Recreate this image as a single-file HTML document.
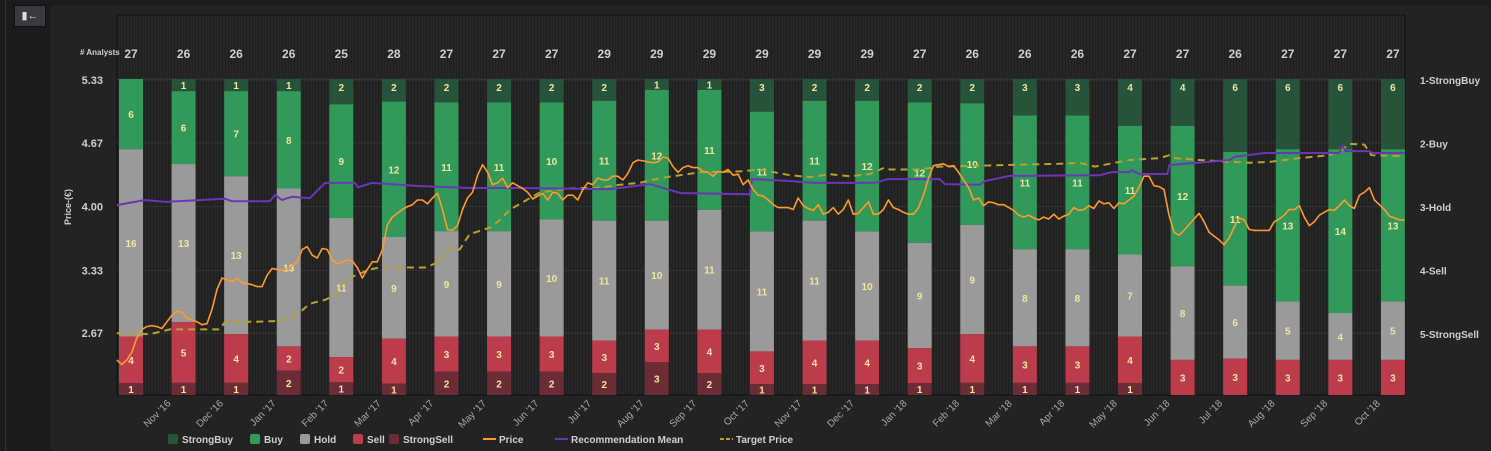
<!DOCTYPE html>
<html><head><meta charset="utf-8">
<style>
html,body{margin:0;padding:0;background:#1b1b1c;width:1491px;height:451px;overflow:hidden;font-family:"Liberation Sans",sans-serif;}
#panel{position:absolute;left:50px;top:5px;width:1441px;height:446px;background:#232323;border-radius:4px;}
#btn{position:absolute;left:14px;top:5px;width:30px;height:20px;background:#3a3a3c;border:1px solid #111;color:#ddd;font-size:11px;line-height:20px;text-align:center;}
#sideline{position:absolute;left:5px;top:0;width:1px;height:451px;background:#333;}
svg{position:absolute;left:0;top:0;}
</style></head><body>
<div id="sideline"></div>
<div id="panel"></div>
<div id="btn">▮←</div>
<svg id="chart" width="1491" height="451">
<defs>
<pattern id="stripes" width="3" height="10" patternUnits="userSpaceOnUse">
<rect width="3" height="10" fill="#262626"/><rect width="1" height="10" fill="#1f1f1f"/>
</pattern>
</defs>
</svg>
<script>
const months=["Nov '16","Dec '16","Jan '17","Feb '17","Mar '17","Apr '17","May '17","Jun '17","Jul '17","Aug '17","Sep '17","Oct '17","Nov '17","Dec '17","Jan '18","Feb '18","Mar '18","Apr '18","May '18","Jun '18","Jul '18","Aug '18","Sep '18","Oct '18"];
const strongBuy=[0,1,1,1,2,2,2,2,2,2,1,1,3,2,2,2,2,3,3,4,4,6,6,6,6];
const buy=[6,6,7,8,9,12,11,11,10,11,12,11,11,11,12,12,10,11,11,11,12,11,13,14,13];
const hold=[16,13,13,13,11,9,9,9,10,11,10,11,11,11,10,9,9,8,8,7,8,6,5,4,5];
const sell=[4,5,4,2,2,4,3,3,3,3,3,4,3,4,4,3,4,3,3,4,3,3,3,3,3];
const strongSell=[1,1,1,2,1,1,2,2,2,2,3,2,1,1,1,1,1,1,1,1,0,0,0,0,0];
const leftTicks=[2.67,3.33,4.00,4.67,5.33];
const rightTicks=["1-StrongBuy","2-Buy","3-Hold","4-Sell","5-StrongSell"];
const priceStartT=-0.27, priceEndT=24.22;
const price=[2.39,2.34,2.39,2.47,2.62,2.71,2.74,2.75,2.74,2.72,2.79,2.86,2.90,2.89,2.83,2.81,2.79,2.76,2.77,2.92,3.13,3.25,3.23,3.21,3.25,3.20,3.19,3.18,3.16,3.16,3.28,3.35,3.34,3.33,3.34,3.38,3.42,3.55,3.58,3.49,3.46,3.56,3.55,3.44,3.40,3.42,3.44,3.43,3.36,3.25,3.34,3.42,3.42,3.55,3.81,3.89,3.93,3.97,4.00,4.02,4.07,4.07,4.03,4.09,4.14,3.97,3.76,3.75,3.80,3.97,4.09,4.15,4.33,4.44,4.36,4.23,4.25,4.30,4.20,4.25,4.22,4.19,4.15,4.08,4.11,4.14,4.07,4.15,4.14,4.07,4.12,4.12,4.07,4.18,4.25,4.23,4.30,4.28,4.28,4.32,4.32,4.28,4.35,4.46,4.49,4.48,4.47,4.46,4.47,4.52,4.51,4.42,4.36,4.41,4.43,4.41,4.41,4.37,4.36,4.32,4.37,4.36,4.39,4.33,4.34,4.23,4.28,4.18,4.12,4.11,4.07,4.02,3.99,3.99,3.99,3.97,4.09,4.01,3.98,3.96,4.02,3.92,3.94,3.99,3.92,3.97,4.07,3.92,3.93,3.99,4.05,3.92,3.92,3.97,4.07,3.99,3.97,3.94,3.92,3.92,3.99,4.12,4.30,4.43,4.44,4.45,4.42,4.43,4.36,4.28,4.20,4.07,4.09,4.01,4.05,4.04,4.02,4.02,3.99,3.96,3.91,3.89,3.91,3.88,3.86,3.89,3.87,3.92,3.87,3.90,3.92,3.99,3.96,3.97,4.01,3.98,4.06,4.03,4.04,3.98,4.04,4.03,4.07,4.11,4.20,4.32,4.32,4.22,4.21,4.18,3.91,3.73,3.70,3.75,3.81,3.87,3.93,3.84,3.73,3.69,3.65,3.60,3.67,3.78,3.88,3.86,3.76,3.75,3.75,3.75,3.75,3.84,3.87,3.91,3.97,3.97,4.01,3.89,3.80,3.84,3.91,3.94,3.97,3.96,4.01,4.07,4.01,3.98,4.12,4.15,4.20,4.07,4.02,3.97,3.90,3.88,3.86,3.86];
const recT=[-0.27,0.27,0.65,1.79,1.92,2.64,2.74,2.87,3.06,3.40,3.69,4.26,4.32,4.58,5.46,6.44,7.40,9.11,9.87,10.44,11.77,11.81,12.53,13.00,14.14,14.39,15.38,15.48,16.14,16.24,16.71,18.42,18.65,18.99,19.03,19.18,19.71,19.75,20.89,20.99,21.56,22.98,23.04,23.10,23.56,23.61,24.22];
const recV=[2.97,2.89,2.92,2.87,2.91,2.91,2.81,2.89,2.84,2.86,2.62,2.62,2.69,2.62,2.67,2.70,2.70,2.72,2.64,2.78,2.80,2.56,2.59,2.62,2.62,2.56,2.56,2.64,2.65,2.59,2.51,2.50,2.45,2.45,2.42,2.48,2.48,2.34,2.26,2.21,2.15,2.15,2.04,2.12,2.12,2.15,2.15];
const tgtT=[-0.27,0.36,0.74,1.69,1.79,2.36,2.83,3.02,3.21,3.40,3.69,3.88,4.07,4.54,4.73,5.59,5.87,5.97,6.25,6.44,6.83,7.02,7.21,7.59,7.78,8.35,8.92,9.30,9.68,10.06,10.44,10.82,11.58,11.96,12.53,12.91,13.29,13.67,14.05,14.33,14.43,15.00,15.38,16.14,16.90,17.66,18.04,18.33,18.61,18.99,19.56,19.75,19.85,20.32,21.27,21.65,22.22,22.79,23.04,23.17,23.46,23.59,24.22];
const tgtV=[2.67,2.66,2.71,2.71,2.79,2.79,2.80,2.83,2.89,2.98,3.02,3.07,3.23,3.34,3.36,3.36,3.42,3.55,3.55,3.71,3.78,3.86,3.97,4.09,4.15,4.19,4.20,4.23,4.25,4.30,4.33,4.36,4.37,4.39,4.33,4.31,4.34,4.32,4.34,4.41,4.39,4.39,4.42,4.43,4.44,4.45,4.46,4.42,4.45,4.49,4.51,4.54,4.51,4.49,4.46,4.47,4.51,4.54,4.60,4.66,4.65,4.54,4.53];

const NS="http://www.w3.org/2000/svg";
const svg=document.getElementById('chart');
const PL=117,PR=1405,PT=15,PB=395,BT=79;
function xT(t){return 131+t*52.58;}
function yP(p){return 80+(5.33-p)*95.2;}
function yR(r){return 80+(r-1)*63.5;}
function mk(tag,a,parent){const e=document.createElementNS(NS,tag);for(const k in a)e.setAttribute(k,a[k]);(parent||svg).appendChild(e);return e;}

const bg=mk('rect',{x:PL,y:PT,width:PR-PL,height:PB-PT,fill:'url(#stripes)',stroke:'#111','stroke-width':1});


mk('line',{x1:PL,x2:PR,y1:BT,y2:BT,stroke:'#333','stroke-width':1});
leftTicks.forEach((v,i)=>{
  const y=yP(v);
  const g=mk('line',{x1:PL,x2:PR,y1:y,y2:y,stroke:'#333','stroke-width':1});
  
  
  const t=mk('text',{x:103,y:y+4,'text-anchor':'end',fill:'#cfcfcf','font-size':11,'font-weight':'bold'});
  t.textContent=v.toFixed(2);
  
  
});
rightTicks.forEach((s,i)=>{
  const t=mk('text',{x:1420,y:yR(i+1)+4,fill:'#cfcfcf','font-size':10,'font-weight':'bold'});
  t.textContent=s;
  
  
});
const yt=mk('text',{x:0,y:0,transform:'translate(71,207) rotate(-90)','text-anchor':'middle',fill:'#cfcfcf','font-size':9,'font-weight':'bold'});
yt.textContent='Price-(€)';


const na=mk('text',{x:80,y:55,fill:'#cfcfcf','font-size':8,'font-weight':'bold'});
na.textContent='# Analysts';



const cols=['#27533a','#31995a','#9a9a9a','#bd3c4c','#6b2c35'];
const series=[strongBuy,buy,hold,sell,strongSell];
const segNames=['strongbuy','buy','hold','sell','strongsell'];
for(let i=0;i<strongBuy.length;i++){
  const total=series.reduce((s,a)=>s+a[i],0);
  const cx=xT(i);
  const h=(PB-BT)/total;
  let y=BT;
  const cnt=mk('text',{x:cx,y:58,'text-anchor':'middle',fill:'#cfcfcf','font-size':12,'font-weight':'bold'});
  cnt.textContent=total;
  
  
  series.forEach((arr,k)=>{
    const v=arr[i]; if(!v) return;
    const r=mk('rect',{x:cx-12,y:y,width:24,height:v*h,fill:cols[k]});
    
    
    const t=mk('text',{x:cx,y:(v*h<16? y+v*h/2+4 : (k===0? y+12 : y+v*h/2+4)),'text-anchor':'middle',fill:'#efe6a2','font-size':10,'font-weight':'bold'});
    t.textContent=v;
    
    
    y+=v*h;
  });
}
months.forEach((m,i)=>{
  const x=xT(i+0.5);
  const t=mk('text',{x:0,y:0,transform:`translate(${x+14},${404}) rotate(-45)`,'text-anchor':'end',fill:'#a8a8a8','font-size':10});
  t.textContent=m;
  
  
});
let d=tgtT.map((t,i)=>(i?'L':'M')+xT(t).toFixed(1)+','+yP(tgtV[i]).toFixed(1)).join('');
const tp=mk('path',{d:d,fill:'none',stroke:'#b8a22e','stroke-width':2,'stroke-dasharray':'7,5'});


d=recT.map((t,i)=>(i?'L':'M')+xT(t).toFixed(1)+','+yR(recV[i]).toFixed(1)).join('');
const rm=mk('path',{d:d,fill:'none',stroke:'#6b36b5','stroke-width':2});


const n=price.length;
d=price.map((p,i)=>(i?'L':'M')+xT(priceStartT+(priceEndT-priceStartT)*i/(n-1)).toFixed(1)+','+yP(p).toFixed(1)).join('');
const pl=mk('path',{d:d,fill:'none',stroke:'#ff9a2c','stroke-width':1.6,'stroke-linejoin':'round'});



const legend=[['StrongBuy',cols[0],'box',168],['Buy',cols[1],'box',250],['Hold',cols[2],'box',300],['Sell',cols[3],'box',353],['StrongSell',cols[4],'box',389],['Price','#ff9a2c','line',483],['Recommendation Mean','#6b36b5','line',555],['Target Price','#b8a22e','dash',720]];
legend.forEach(([name,c,type,x])=>{
  const g=mk('g',{});
  
  
  if(type==='box') mk('rect',{x:x,y:434,width:10,height:10,rx:2,fill:c},g);
  else mk('line',{x1:x,x2:x+13,y1:439,y2:439,stroke:c,'stroke-width':2,'stroke-dasharray':type==='dash'?'4,2':'none'},g);
  const t=mk('text',{x:x+(type==='box'?14:16),y:443,fill:'#cfcfcf','font-size':10,'font-weight':'bold'},g);
  t.textContent=name;
});
</script>
</body></html>
